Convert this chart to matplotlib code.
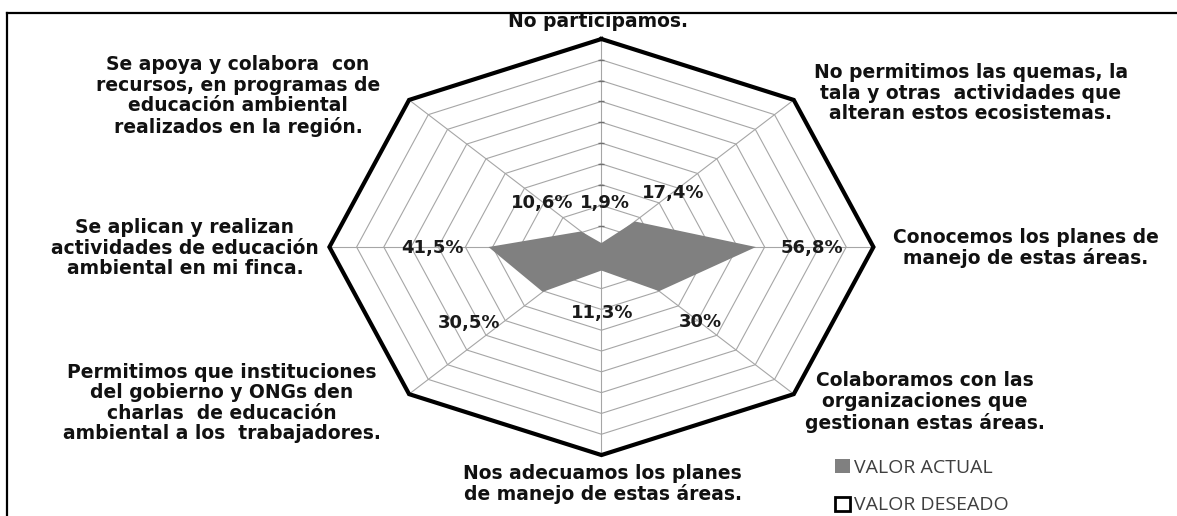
import numpy as np
import matplotlib.pyplot as plt
from matplotlib.patches import Patch
from matplotlib.lines import Line2D

plt.rcParams['font.family'] = ['DejaVu Sans']

# datos (en sentido horario desde arriba)
categorias = [
    'No participamos.',
    'No permitimos las quemas, la\ntala y otras  actividades que\nalteran estos ecosistemas.',
    'Conocemos los planes de\nmanejo de estas áreas.',
    'Colaboramos con las\norganizaciones que\ngestionan estas áreas.',
    'Nos adecuamos los planes\nde manejo de estas áreas.',
    'Permitimos que instituciones\ndel gobierno y ONGs den\ncharlas  de educación\nambiental a los  trabajadores.',
    'Se aplican y realizan\nactividades de educación\nambiental en mi finca.',
    'Se apoya y colabora  con\nrecursos, en programas de\neducación ambiental\nrealizados en la región.',
]
valor_actual = [1.9, 17.4, 56.8, 30.0, 11.3, 30.5, 41.5, 10.6]
valor_deseado = [100, 100, 100, 100, 100, 100, 100, 100]
etiquetas_valor = ['1,9%', '17,4%', '56,8%', '30%', '11,3%', '30,5%', '41,5%', '10,6%']
niveles = [10, 20, 30, 40, 50, 60, 70, 80, 90, 100]

# posiciones de textos (coordenadas de datos)
pos_categorias = [(-1.3, 108.2), (135.8, 74.0), (156.1, -0.5), (118.9, -74.5),
                  (0.5, -113.9), (-139.5, -75.0), (-153.1, -0.5), (-133.6, 72.6)]
pos_valores = [(1.2, 21.2), (26.3, 26.0), (77.4, -0.5), (36.2, -36.1),
               (0.2, -31.7), (-48.7, -36.5), (-62.3, -0.5), (-21.8, 21.2)]

n = len(categorias)
ang = np.deg2rad(np.arange(n) * 360.0 / n)
ang_c = np.append(ang, ang[0])


def xy(vals):
    v = np.append(vals, vals[0])
    return v * np.sin(ang_c), v * np.cos(ang_c)


fig = plt.figure(figsize=(11.77, 5.16), dpi=100)
ax = fig.add_axes([0, 0, 1, 1])
ax.set_xlim(-221.1, 211.6)
ax.set_ylim(-129.3, 118.75)
ax.axis('off')

# rejilla
for lv in niveles[:-1]:
    gx, gy = xy(np.full(n, lv))
    ax.plot(gx, gy, color='#a6a6a6', lw=0.8, zorder=1)
for a in ang:
    ax.plot([0, 100 * np.sin(a)], [0, 100 * np.cos(a)], color='#a6a6a6', lw=0.8, zorder=1)
ax.plot(np.zeros(len(niveles)), niveles, ls='none', marker='_', ms=5,
        mew=1.0, color='#707070', zorder=2)

# series
px, py = xy(valor_actual)
ax.fill(px, py, color='#808080', lw=0, zorder=3)
dx, dy = xy(valor_deseado)
ax.plot(dx, dy, color='black', lw=3, solid_joinstyle='miter', zorder=4)

for (x, y), t in zip(pos_valores, etiquetas_valor):
    ax.text(x, y, t, ha='center', va='center', fontsize=13, fontweight='bold',
            color='#1a1a1a', zorder=5)
for (x, y), t in zip(pos_categorias, categorias):
    ax.text(x, y, t, ha='center', va='center', multialignment='center',
            fontsize=13.5, fontweight='bold', color='#111111', linespacing=1.1, zorder=5)

# marco
fig.add_artist(Line2D([7 / 1177, 1], [1 - 12.5 / 516, 1 - 12.5 / 516],
                      transform=fig.transFigure, color='black', lw=1.6))
fig.add_artist(Line2D([7 / 1177, 7 / 1177], [0, 1 - 12.5 / 516],
                      transform=fig.transFigure, color='black', lw=1.6))

handles = [Patch(facecolor='#808080', edgecolor='none'),
           Patch(facecolor='white', edgecolor='black', lw=2)]
fig.legend(handles, ['VALOR ACTUAL', 'VALOR DESEADO'], loc='upper left',
           bbox_to_anchor=(835 / 1177, 1 - 459 / 516), frameon=False,
           prop={'family': 'Open Sans', 'size': 14}, labelcolor='#3f3f3f',
           handlelength=0.75, handleheight=0.75, handletextpad=0.25,
           labelspacing=1.0, borderpad=0, borderaxespad=0)

fig.savefig('out.png', dpi=100)
